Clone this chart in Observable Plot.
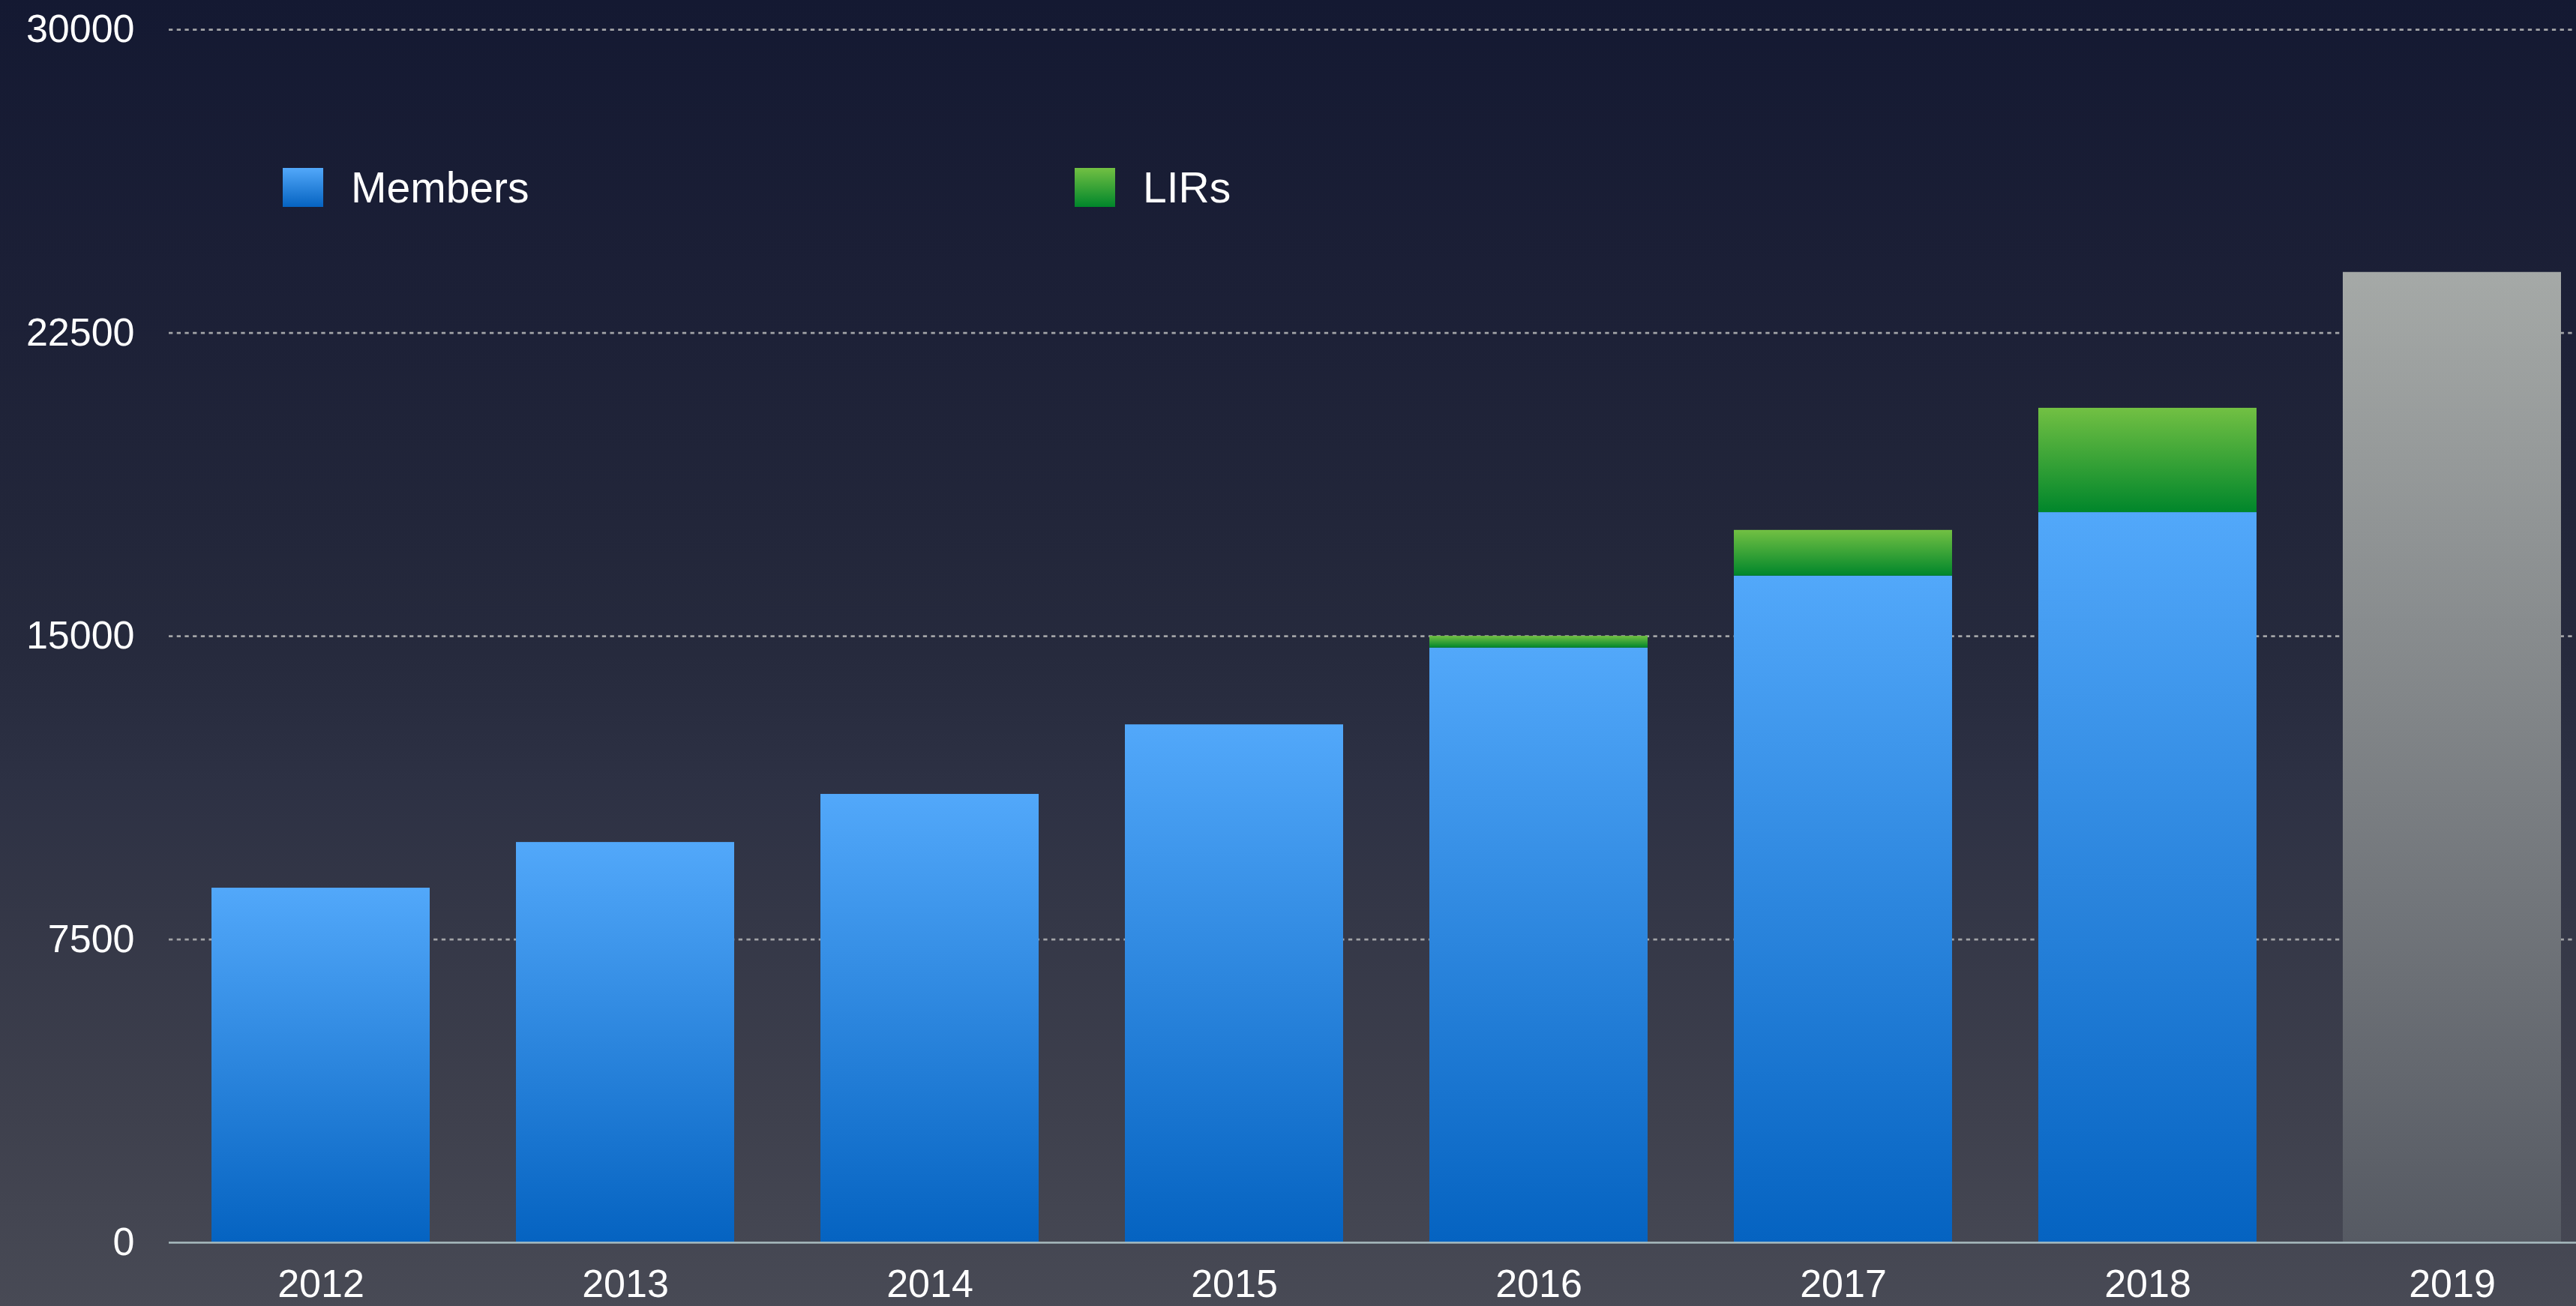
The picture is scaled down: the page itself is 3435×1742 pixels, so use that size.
<!DOCTYPE html>
<html>
<head>
<meta charset="utf-8">
<script src="https://cdn.jsdelivr.net/npm/d3@7"></script>
<script src="https://cdn.jsdelivr.net/npm/@observablehq/plot@0.6"></script>
<style>
  html, body { margin: 0; padding: 0; overflow: hidden; }
  body {
    width: 3435px; height: 1742px;
    background: linear-gradient(to bottom, #141932 0%, #1b1f36 20%, #22263a 40%, #262a3d 50%, #2d3144 60%, #343747 70%, #3e404d 85%, #484a55 100%);
    font-family: "Liberation Sans", Arial, sans-serif;
  }
  #chart { position: absolute; left: 0; top: 0; }
</style>
</head>
<body>
<div id="chart"></div>
<script>
// ---- data ----
const years = ["2012", "2013", "2014", "2015", "2016", "2017", "2018", "2019"];
const members = [8770, 9900, 11090, 12810, 14710, 16490, 18060, null];
const lirs = [0, 0, 0, 0, 290, 1130, 2580, null];
const projected = [null, null, null, null, null, null, null, 24000];
const yTicks = [0, 7500, 15000, 22500, 30000];
const seriesNames = ["Members", "LIRs"];

const rows = years.map((y, i) => ({
  year: y,
  members: members[i],
  lirs: lirs[i],
  total: members[i] == null ? null : members[i] + lirs[i],
  projected: projected[i]
}));

const W = 3435, H = 1742;

const plot = Plot.plot({
  width: W,
  height: H,
  marginLeft: 225,
  marginRight: 0,
  marginTop: 39.2,
  marginBottom: 85,
  style: {
    background: "transparent",
    color: "white",
    fontFamily: "'Liberation Sans', Arial, sans-serif",
    fontSize: "52px",
    overflow: "visible",
    maxWidth: "none"
  },
  x: {
    domain: years,
    range: [225, 3473],
    paddingInner: 0.283,
    paddingOuter: 0.1415,
    align: 0.5,
    tickSize: 0,
    tickPadding: 36,
    label: null
  },
  y: {
    domain: [0, 30000],
    ticks: yTicks,
    tickFormat: d => String(d),
    tickSize: 0,
    tickPadding: 46,
    label: null
  },
  marks: [
    Plot.ruleY(yTicks.filter(d => d > 0), {stroke: "#a3a4a7", strokeWidth: 2.8, strokeDasharray: "5.3,5.4"}),
    Plot.barY(rows.filter(d => d.members != null), {x: "year", y: "members", fill: "url(#gMembers)"}),
    Plot.barY(rows.filter(d => d.lirs > 0), {x: "year", y1: "members", y2: "total", fill: "url(#gLIRs)"}),
    Plot.barY(rows.filter(d => d.projected != null), {x: "year", y: "projected", fill: "url(#gProj)"}),
    Plot.ruleY([0], {stroke: "#a9bcc0", strokeWidth: 2.7})
  ]
});

// gradient definitions
const svg = d3.select(plot);
const defs = svg.insert("defs", ":first-child");
function grad(id, top, bottom) {
  const g = defs.append("linearGradient").attr("id", id).attr("x1", 0).attr("y1", 0).attr("x2", 0).attr("y2", 1);
  g.append("stop").attr("offset", "0%").attr("stop-color", top);
  g.append("stop").attr("offset", "100%").attr("stop-color", bottom);
}
grad("gMembers", "#52a8fa", "#0563c1");
grad("gLIRs", "#72c043", "#00862b");
grad("gProj", "#a5a9a7", "#565a63");

// legend
const legend = svg.append("g");
const legendItems = [
  {name: seriesNames[0], grad: "url(#gMembers)", x: 377},
  {name: seriesNames[1], grad: "url(#gLIRs)", x: 1433}
];
legendItems.forEach(it => {
  legend.append("rect").attr("x", it.x).attr("y", 224).attr("width", 54).attr("height", 52).attr("fill", it.grad);
  legend.append("text")
    .attr("x", it.x + 91).attr("y", 270)
    .attr("text-anchor", "start")
    .style("font-size", "57px")
    .style("fill", "white")
    .style("font-family", "'Liberation Sans', Arial, sans-serif")
    .text(it.name);
});

document.getElementById("chart").appendChild(plot);
</script>
</body>
</html>
